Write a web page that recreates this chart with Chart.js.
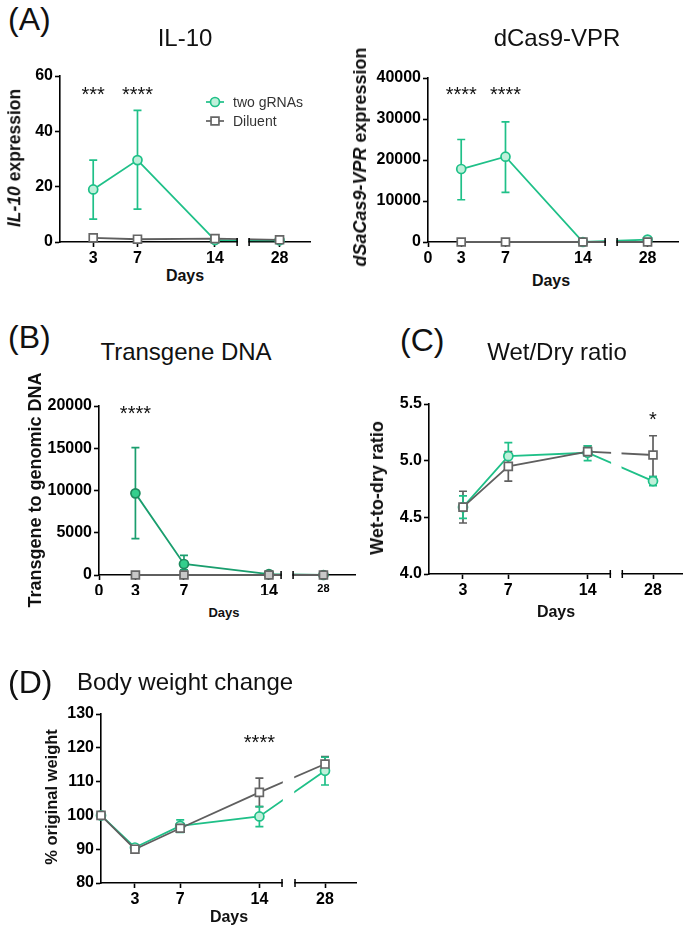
<!DOCTYPE html>
<html>
<head>
<meta charset="utf-8">
<script src="https://cdn.jsdelivr.net/npm/chart.js@4.4.1/dist/chart.umd.min.js"></script>
<style>
body { margin: 0; background: #fff; font-family: "Liberation Sans", Arial, sans-serif; }
#page { position: relative; width: 690px; height: 930px; overflow: hidden; background: #fff; }
canvas { position: absolute; }
.lbl { position: absolute; white-space: nowrap; line-height: 1; color: #111; }
.title { transform: translateX(-50%); }
.xtitle { font-weight: bold; transform: translateX(-50%); }
.ytitle { font-weight: bold; transform: translate(-50%, -50%) rotate(-90deg); }
</style>
</head>
<body>
<div id="page"></div>
<script>
// days sampled
const days = [3, 7, 14, 28];
const weightDays = [0, 3, 7, 14, 28];

// (A) IL-10 expression
const il10Guides = [19.0, 29.6, 0.7, 0.6];
const il10GuidesLow = [8.3, 11.9, 0.7, 0.6];
const il10GuidesHigh = [29.6, 47.6, 0.7, 0.6];
const il10Diluent = [1.5, 1.0, 1.2, 0.8];

// (A) dSaCas9-VPR expression
const vprGuides = [17800, 20800, 0, 600];
const vprGuidesLow = [10300, 12100, 0, 500];
const vprGuidesHigh = [25000, 29300, 0, 700];
const vprDiluent = [0, 0, 0, 0];

// (B) transgene to genomic DNA
const dnaGuides = [9660, 1300, 100, 0];
const dnaGuidesLow = [4300, 600, 100, 0];
const dnaGuidesHigh = [15070, 2330, 100, 0];
const dnaDiluent = [0, 0, 0, 0];

// (C) wet-to-dry ratio
const wetGuides = [4.59, 5.04, 5.07, 4.82];
const wetGuidesLow = [4.49, 4.97, 5.00, 4.78];
const wetGuidesHigh = [4.69, 5.16, 5.13, 4.86];
const wetDiluent = [4.59, 4.95, 5.08, 5.05];
const wetDiluentLow = [4.45, 4.82, 5.04, 4.86];
const wetDiluentHigh = [4.73, 5.08, 5.13, 5.22];

// (D) body weight
const bwGuides = [100, 90.5, 96.9, 99.7, 113.2];
const bwGuidesLow = [100, 90.5, 95.0, 96.7, 109.0];
const bwGuidesHigh = [100, 90.5, 98.7, 102.6, 117.2];
const bwDiluent = [100, 90.0, 96.2, 106.8, 115.2];
const bwDiluentLow = [100, 90.0, 95.2, 102.6, 113.5];
const bwDiluentHigh = [100, 90.0, 97.2, 111.0, 117.4];

// significance marks
const il10StarDays = [3, 7], il10Stars = ['***', '****'], il10StarLevel = 55;
const vprStarDays = [3, 7], vprStars = ['****', '****'], vprStarLevel = 37300;
const dnaStarDays = [3], dnaStars = ['****'], dnaStarLevel = 19700;
const wetStarDays = [28], wetStars = ['*'], wetStarLevel = 5.41;
const bwStarDays = [14], bwStars = ['****'], bwStarLevel = 123;

const FONT = '"Liberation Sans", Arial, sans-serif';
Chart.defaults.font.family = FONT;
const page = document.getElementById('page');

// linear scale with a gap in it (x axis with a break between 14 and 28)
class BrokenScale extends Chart.LinearScale {
  _k() {
    const o = this.options;
    return (this.width - o.breakGap) / ((o.breakAt - this.min) + (this.max - o.resumeAt));
  }
  getPixelForValue(v) {
    if (v === null || v === undefined || isNaN(v)) return NaN;
    const o = this.options, k = this._k();
    if (v <= o.breakAt) return this.left + (v - this.min) * k;
    return this.left + (o.breakAt - this.min) * k + o.breakGap + (v - o.resumeAt) * k;
  }
  getValueForPixel(p) {
    const o = this.options, k = this._k();
    const x1 = this.left + (o.breakAt - this.min) * k;
    if (p <= x1) return this.min + (p - this.left) / k;
    return o.resumeAt + (p - x1 - o.breakGap) / k;
  }
}
BrokenScale.id = 'broken';
Chart.register(BrokenScale);

const errorBars = {
  id: 'errorBars',
  beforeDatasetsDraw(chart) {
    const ctx = chart.ctx, xs = chart.scales.x, ys = chart.scales.y;
    chart.data.datasets.forEach(ds => {
      if (!ds.errLow) return;
      ctx.save();
      ctx.strokeStyle = ds.borderColor;
      ctx.lineWidth = 1.7;
      ds.data.forEach((pt, i) => {
        const x = xs.getPixelForValue(pt.x);
        const lo = ys.getPixelForValue(ds.errLow[i]);
        const hi = ys.getPixelForValue(ds.errHigh[i]);
        if (Math.abs(lo - hi) < 2) return;
        ctx.beginPath();
        ctx.moveTo(x, lo); ctx.lineTo(x, hi);
        ctx.moveTo(x - 4, lo); ctx.lineTo(x + 4, lo);
        ctx.moveTo(x - 4, hi); ctx.lineTo(x + 4, hi);
        ctx.stroke();
      });
      ctx.restore();
    });
  }
};

const axisBreak = {
  id: 'axisBreak',
  afterDatasetsDraw(chart) {
    const xs = chart.scales.x, o = xs.options, a = chart.chartArea, ctx = chart.ctx;
    const x1 = xs.getPixelForValue(o.breakAt), x2 = x1 + o.breakGap;
    ctx.save();
    ctx.fillStyle = '#fff';
    ctx.fillRect(x1 + 0.8, a.top - 30, x2 - x1 - 1.6, a.bottom - a.top + 32);
    ctx.strokeStyle = '#000';
    ctx.lineWidth = 1.5;
    ctx.beginPath();
    [x1, x2].forEach(x => { ctx.moveTo(x, a.bottom - 4); ctx.lineTo(x, a.bottom + 4); });
    ctx.stroke();
    ctx.restore();
  }
};

const stars = {
  id: 'stars',
  afterDraw(chart, args, opts) {
    const ctx = chart.ctx, xs = chart.scales.x, ys = chart.scales.y;
    ctx.save();
    ctx.font = '20px ' + FONT;
    ctx.fillStyle = '#111';
    ctx.textAlign = 'center';
    ctx.textBaseline = 'alphabetic';
    opts.days.forEach((d, i) => {
      ctx.fillText(opts.text[i], xs.getPixelForValue(d), ys.getPixelForValue(opts.level) + 0.58 * 20);
    });
    ctx.restore();
  }
};

const keyBox = {
  id: 'keyBox',
  afterDraw(chart, args, opts) {
    if (!opts.show) return;
    const ctx = chart.ctx;
    const list = chart.data.datasets.slice().reverse();
    ctx.save();
    list.forEach((ds, i) => {
      const y = opts.y + i * opts.rowGap;
      ctx.strokeStyle = ds.borderColor;
      ctx.lineWidth = 1.7;
      ctx.beginPath(); ctx.moveTo(opts.x - 9, y); ctx.lineTo(opts.x + 9, y); ctx.stroke();
      ctx.fillStyle = ds.pointBackgroundColor;
      ctx.strokeStyle = ds.pointBorderColor;
      ctx.lineWidth = ds.pointBorderWidth;
      Chart.helpers.drawPoint(ctx, {pointStyle: ds.pointStyle, rotation: 0, radius: ds.pointRadius, borderWidth: ds.pointBorderWidth}, opts.x, y);
      ctx.fillStyle = '#333';
      ctx.font = '14px ' + FONT;
      ctx.textAlign = 'left';
      ctx.textBaseline = 'middle';
      ctx.fillText(ds.label, opts.x + 18, y + 1);
    });
    ctx.restore();
  }
};

function series(label, xs, ys, lo, hi, look) {
  return {
    label: label,
    data: xs.map((d, i) => ({x: d, y: ys[i]})),
    errLow: lo, errHigh: hi,
    borderColor: look.line,
    borderWidth: 1.8,
    pointStyle: look.style,
    pointRadius: look.r,
    pointBackgroundColor: look.fill,
    pointBorderColor: look.edge,
    pointBorderWidth: 1.7,
    tension: 0,
    fill: false,
    clip: false
  };
}

const greenLook = {line: '#1fc088', fill: '#bff0da', edge: '#1fc088', style: 'circle', r: 4.5};
const greyLook = {line: '#5f5f5f', fill: '#ffffff', edge: '#666666', style: 'rect', r: 5.6};
const greenDarkLook = {line: '#1a9e6e', fill: '#34cf8d', edge: '#1e8a5e', style: 'circle', r: 4.5};
const greyFillLook = {line: '#5f5f5f', fill: '#c8c8c8', edge: '#666666', style: 'rect', r: 5.6};

function panel(p) {
  const [x0, y0, w, h] = p.box;
  const [L, T, R, B] = p.area;
  const c = document.createElement('canvas');
  c.width = w; c.height = h;
  c.style.left = x0 + 'px'; c.style.top = y0 + 'px';
  page.appendChild(c);
  new Chart(c, {
    type: 'line',
    data: {datasets: p.datasets},
    options: {
      responsive: false,
      animation: false,
      events: [],
      layout: {padding: {left: 0, top: T - y0, right: x0 + w - R, bottom: 0}},
      plugins: {
        legend: {display: false},
        tooltip: {enabled: false},
        stars: p.stars,
        keyBox: p.key || {show: false}
      },
      scales: {
        x: {
          type: 'broken',
          min: 0, max: p.xMax,
          breakAt: p.breakAt, resumeAt: p.resumeAt, breakGap: p.gap || 12,
          afterBuildTicks: s => { s.ticks = p.xTicks.map(v => ({value: v})); },
          afterFit: s => { s.height = y0 + h - B; },
          border: {color: '#000', width: 1.6},
          grid: {drawOnChartArea: false, drawTicks: true, tickLength: 5, tickColor: '#000', tickWidth: 1.6},
          ticks: {
            autoSkip: false, maxRotation: 0, padding: 2, color: '#000',
            font: p.xFont || {size: 16, weight: 'bold'},
            callback: v => String(v)
          }
        },
        y: {
          min: p.yMin, max: p.yMax,
          afterFit: s => { s.width = L - x0; },
          border: {color: '#000', width: 1.6},
          grid: {drawOnChartArea: false, drawTicks: true, tickLength: 5, tickColor: '#000', tickWidth: 1.6},
          ticks: {
            stepSize: p.yStep, padding: 2, color: '#000',
            font: {size: 16, weight: 'bold'},
            callback: p.yFmt || (v => String(v))
          }
        }
      }
    },
    plugins: [errorBars, axisBreak, stars, keyBox]
  });
}

function label(html, cls, x, y, size) {
  const d = document.createElement('div');
  d.className = 'lbl ' + cls;
  d.innerHTML = html;
  d.style.fontSize = size + 'px';
  d.style.left = x + 'px';
  d.style.top = (cls === 'ytitle' ? y : y - 0.49 * size) + 'px';
  page.appendChild(d);
}

// (A) IL-10
panel({
  box: [0, 40, 345, 225], area: [60, 76, 310, 242],
  xMax: 30.75, breakAt: 16, resumeAt: 25.25, xTicks: [3, 7, 14, 28],
  yMin: 0, yMax: 60, yStep: 20,
  datasets: [
    series('Diluent', days, il10Diluent, null, null, greyLook),
    series('two gRNAs', days, il10Guides, il10GuidesLow, il10GuidesHigh, greenLook)
  ],
  stars: {days: il10StarDays, text: il10Stars, level: il10StarLevel},
  key: {show: true, x: 215, y: 62, rowGap: 19}
});

// (A) dCas9-VPR
panel({
  box: [345, 40, 345, 225], area: [428, 78, 678, 242],
  xMax: 30.75, breakAt: 16, resumeAt: 25.25, xTicks: [0, 3, 7, 14, 28],
  yMin: 0, yMax: 40000, yStep: 10000,
  datasets: [
    series('Diluent', days, vprDiluent, null, null, greyLook),
    series('two gRNAs', days, vprGuides, vprGuidesLow, vprGuidesHigh, greenLook)
  ],
  stars: {days: vprStarDays, text: vprStars, level: vprStarLevel}
});

// (B) Transgene DNA
panel({
  box: [0, 370, 370, 225], area: [99, 406, 355, 575],
  xMax: 30.6, breakAt: 15, resumeAt: 25.5, xTicks: [0, 3, 7, 14, 28],
  yMin: 0, yMax: 20000, yStep: 5000,
  xFont: ctx => ({size: ctx.tick && ctx.tick.value === 28 ? 11 : 16, weight: 'bold'}),
  datasets: [
    series('Diluent', days, dnaDiluent, null, null, greyFillLook),
    series('two gRNAs', days, dnaGuides, dnaGuidesLow, dnaGuidesHigh, greenDarkLook)
  ],
  stars: {days: dnaStarDays, text: dnaStars, level: dnaStarLevel}
});

// (C) Wet/Dry ratio
panel({
  box: [345, 370, 345, 225], area: [429, 404, 685, 574],
  xMax: 30.62, breakAt: 16, resumeAt: 25.29, xTicks: [3, 7, 14, 28],
  yMin: 4.0, yMax: 5.5, yStep: 0.5, yFmt: v => v.toFixed(1),
  datasets: [
    series('Diluent', days, wetDiluent, wetDiluentLow, wetDiluentHigh, greyLook),
    series('two gRNAs', days, wetGuides, wetGuidesLow, wetGuidesHigh, greenLook)
  ],
  stars: {days: wetStarDays, text: wetStars, level: wetStarLevel}
});

// (D) Body weight change
panel({
  box: [0, 690, 370, 225], area: [101, 714, 356, 883],
  xMax: 30.74, breakAt: 16, resumeAt: 25.35, gap: 13, xTicks: [3, 7, 14, 28],
  yMin: 80, yMax: 130, yStep: 10,
  datasets: [
    series('Diluent', weightDays, bwDiluent, bwDiluentLow, bwDiluentHigh, greyLook),
    series('two gRNAs', weightDays, bwGuides, bwGuidesLow, bwGuidesHigh, greenLook)
  ],
  stars: {days: bwStarDays, text: bwStars, level: bwStarLevel}
});

// panel letters and titles
label('(A)', '', 8, 19, 32);
label('(B)', '', 8, 337, 32);
label('(C)', '', 400, 340, 32);
label('(D)', '', 8, 682, 32);
label('IL-10', 'title', 185, 37.5, 24);
label('dCas9-VPR', 'title', 557, 38, 24);
label('Transgene DNA', 'title', 186, 352, 24);
label('Wet/Dry ratio', 'title', 557, 352, 24);
label('Body weight change', 'title', 185, 682, 24);

// axis titles
label('<i>IL-10</i> expression', 'ytitle', 15, 158, 17.5);
label('<i>dSaCas9-VPR</i> expression', 'ytitle', 360, 157, 18);
label('Transgene to genomic DNA', 'ytitle', 35, 490, 18);
label('Wet-to-dry ratio', 'ytitle', 377, 488, 18);
label('% original weight', 'ytitle', 51, 797, 16.5);
label('Days', 'xtitle', 185, 276, 16);
label('Days', 'xtitle', 551, 281, 16);
label('Days', 'xtitle', 224, 612, 13);
label('Days', 'xtitle', 556, 612, 16);
label('Days', 'xtitle', 229, 917, 16);
</script>
</body>
</html>
